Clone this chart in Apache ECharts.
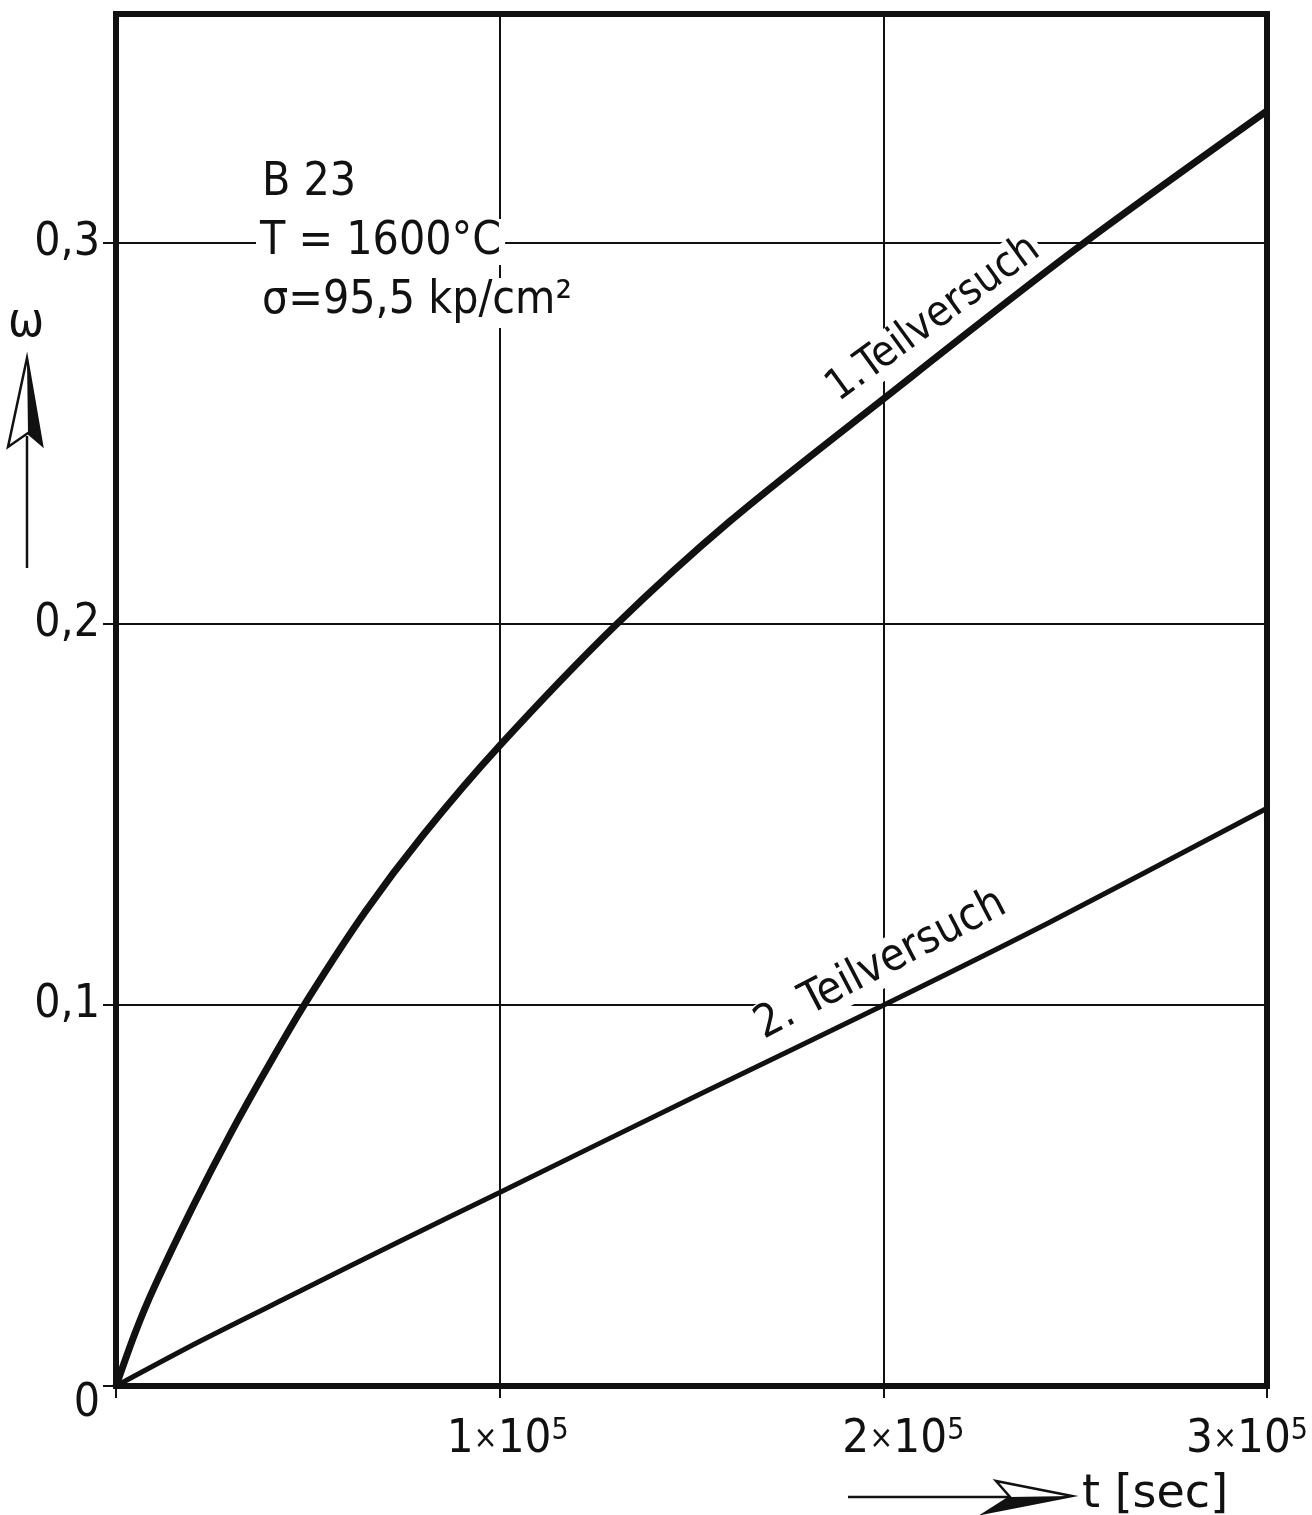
<!DOCTYPE html>
<html>
<head>
<meta charset="utf-8">
<script src="https://cdn.jsdelivr.net/npm/echarts@6/dist/echarts.min.js"></script>
<style>
  html, body { margin: 0; padding: 0; background: #fff; }
  #chart { width: 1312px; height: 1515px; }
</style>
</head>
<body>
<div id="chart"></div>
<script>
// Creep strain ω versus time t [sec], specimen B 23, T = 1600 °C
const t1 = [0, 5000, 10000, 20000, 30000, 40000, 50000, 65000, 80000, 100000, 130000, 160000, 200000, 250000, 300000];
const w1 = [0, 0.014, 0.026, 0.047, 0.0665, 0.0845, 0.1015, 0.1245, 0.1445, 0.168, 0.1994, 0.2269, 0.259, 0.2982, 0.3346];
const t2 = [0, 22000, 48000, 74000, 100000, 152000, 200000, 243000, 300000];
const w2 = [0, 0.0118, 0.0249, 0.038, 0.0508, 0.0765, 0.0999, 0.1215, 0.1516];
const seriesNames = ['1.Teilversuch', '2. Teilversuch'];
const xTicks = [0, 100000, 200000, 300000];
const yTicks = [0, 0.1, 0.2, 0.3];
const infoLines = ['B 23', 'T = 1600°C', 'σ=95,5 kp/cm²'];

const COND = '"DejaVu Sans Condensed", "DejaVu Sans", sans-serif';
const INK = '#111';

// horizontal nudge of the x tick labels (px)
const xLabelShift = { 100000: 8, 200000: 20, 300000: -20 };
const xRich = {};
xTicks.forEach(v => {
  const s = xLabelShift[v] || 0;
  xRich['n' + v] = { fontSize: 47, fontFamily: COND, color: INK, lineHeight: 48, padding: [0, 0, 0, s > 0 ? 2 * s : 0] };
  xRich['x' + v] = { fontSize: 32, fontFamily: COND, color: INK, lineHeight: 48 };
  xRich['t' + v] = { fontSize: 47, fontFamily: COND, color: INK, lineHeight: 48 };
  xRich['e' + v] = { fontSize: 30, fontFamily: COND, color: INK, lineHeight: 30, verticalAlign: 'top', padding: [0, s < 0 ? -2 * s : 0, 0, 0] };
});

const chart = echarts.init(document.getElementById('chart'), null, { renderer: 'canvas' });

const line1 = t1.map((t, i) => [t, w1[i]]);
const line2 = t2.map((t, i) => [t, w2[i]]);

chart.setOption({
  backgroundColor: '#fff',
  animation: false,
  grid: {
    left: 116, right: 45, top: 14, bottom: 129,
    outerBoundsMode: 'none',
    containLabel: false,
    show: true, borderColor: INK, borderWidth: 6, backgroundColor: 'transparent'
  },
  xAxis: {
    type: 'value', min: 0, max: 300000, interval: 100000,
    axisLine: { show: false },
    axisTick: { show: true, inside: false, length: 12, lineStyle: { color: INK, width: 2 } },
    splitLine: { show: true, lineStyle: { color: INK, width: 2 } },
    axisLabel: {
      margin: 30,
      formatter: v => {
        if (v === 0) return '';
        const n = Math.round(v / 100000);
        return '{n' + v + '|' + n + '}{x' + v + '|×}{t' + v + '|10}{e' + v + '|5}';
      },
      rich: xRich
    }
  },
  yAxis: {
    type: 'value', min: 0, max: 0.36, interval: 0.1,
    axisLine: { show: false },
    axisTick: { show: true, inside: false, length: 13, customValues: yTicks, lineStyle: { color: INK, width: 2 } },
    splitLine: { show: true, lineStyle: { color: INK, width: 2 } },
    axisLabel: {
      customValues: yTicks,
      margin: 16,
      fontSize: 46, fontFamily: COND, color: INK,
      formatter: v => v === 0 ? '{z|0}' : v.toFixed(1).replace('.', ','),
      rich: { z: { fontSize: 46, fontFamily: COND, color: INK, padding: [36, 0, 0, 0] } }
    }
  },
  series: [
    {
      name: seriesNames[0], type: 'line', data: line1, showSymbol: false, symbol: 'none',
      smooth: 0.3, z: 3,
      lineStyle: { color: INK, width: 7 }
    },
    {
      name: seriesNames[1], type: 'line', data: line2, showSymbol: false, symbol: 'none',
      smooth: 0.3, z: 3,
      lineStyle: { color: INK, width: 5 }
    }
  ],
  graphic: [
    // specimen data block
    { type: 'text', z: 1, x: 258, y: 160, style: { text: infoLines[0], font: '46px ' + COND, fill: INK, backgroundColor: '#fff', padding: [0, 4] } },
    { type: 'text', z: 1, x: 256, y: 219, style: { text: infoLines[1], font: '46px ' + COND, fill: INK, backgroundColor: '#fff', padding: [0, 4, 0, 4] } },
    { type: 'text', z: 1, x: 258, y: 278, style: { text: infoLines[2], font: '46px ' + COND, fill: INK, backgroundColor: '#fff', padding: [0, 6, 4, 4] } },
    // curve captions
    { type: 'text', z: 1, x: 842, y: 412, rotation: 36 * Math.PI / 180,
      style: { text: seriesNames[0], font: '43px ' + COND, fill: INK, align: 'left', verticalAlign: 'bottom', backgroundColor: '#fff', padding: [0, 3] } },
    { type: 'text', z: 1, x: 766, y: 1050, rotation: 27.5 * Math.PI / 180,
      style: { text: seriesNames[1], font: '45px ' + COND, fill: INK, align: 'left', verticalAlign: 'bottom', backgroundColor: '#fff', padding: [0, 3] } },
    // ω axis name with arrow
    { type: 'text', x: 26, y: 324, style: { text: 'ω', font: '48px ' + COND, fill: INK, align: 'center', verticalAlign: 'middle' } },
    { type: 'polyline', shape: { points: [[27, 568], [27, 436]] }, style: { stroke: INK, lineWidth: 2.5 } },
    { type: 'polygon', shape: { points: [[27, 358], [8, 447], [28, 433], [42, 445]] }, style: { fill: '#fff', stroke: INK, lineWidth: 2.5, lineJoin: 'miter' } },
    { type: 'polygon', shape: { points: [[27, 358], [28, 433], [42, 445]] }, style: { fill: INK } },
    // t axis name with arrow
    { type: 'polyline', shape: { points: [[848, 1497], [1008, 1497]] }, style: { stroke: INK, lineWidth: 2.5 } },
    { type: 'polygon', shape: { points: [[1072, 1496], [996, 1481], [1010, 1497], [985, 1513]] }, style: { fill: '#fff', stroke: INK, lineWidth: 2.5 } },
    { type: 'polygon', shape: { points: [[1072, 1496], [1010, 1497], [985, 1513]] }, style: { fill: INK } },
    { type: 'text', x: 1082, y: 1495, style: { text: 't [sec]', font: '46px "DejaVu Sans", sans-serif', fill: INK, align: 'left', verticalAlign: 'middle' } }
  ]
});
</script>
</body>
</html>
